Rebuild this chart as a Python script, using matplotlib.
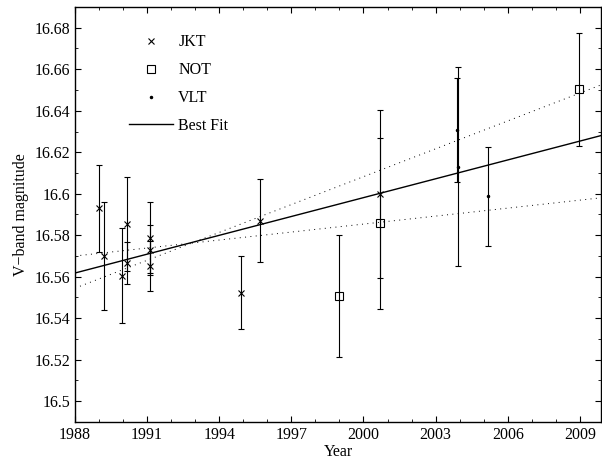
import matplotlib as mpl

mpl.use('Agg')
import matplotlib.pyplot as plt
from matplotlib.lines import Line2D
from matplotlib.ticker import MultipleLocator, FormatStrFormatter
import numpy as np

#### Data ####
jkt_year = [1989.01, 1989.22, 1989.97, 1990.16, 1990.16, 1991.10, 1991.12, 1991.12,
            1994.90, 1995.69, 2000.68]
jkt_mag = [16.5929, 16.5699, 16.5605, 16.5853, 16.5667, 16.5788, 16.5730, 16.5650,
           16.5524, 16.5870, 16.5999]
jkt_err = [0.0210, 0.0260, 0.0228, 0.0227, 0.0100, 0.0170, 0.0120, 0.0120,
           0.0174, 0.0200, 0.0405]

not_year = [1998.99, 2000.68, 2008.97]
not_mag = [16.5505, 16.5857, 16.6504]
not_err = [0.0294, 0.0412, 0.0273]

vlt_year = [2003.90, 2003.95, 2005.19]
vlt_mag = [16.6306, 16.6131, 16.5987]
vlt_err = [0.0250, 0.0480, 0.0240]

fit_year = [1988, 2010]
fit_mag = [16.5618, 16.6284]
fit_lo = [16.5700, 16.5982]
fit_hi = [16.5545, 16.6530]

year_ticks = [1988, 1991, 1994, 1997, 2000, 2003, 2006, 2009]

###################################

plt.rcParams['font.family'] = ['Liberation Serif', 'DejaVu Serif']
plt.rcParams['font.size'] = 11.5

fig = plt.figure(figsize=(6.02, 4.63), dpi=100)
ax = fig.add_axes([75 / 602, 1 - 422 / 463, 526 / 602, 415 / 463])

ebkw = dict(ecolor='black', elinewidth=0.8, capsize=2.5, capthick=0.8,
            linestyle='none', color='black')
ax.errorbar(jkt_year, jkt_mag, yerr=jkt_err, marker='x', markersize=4.5,
            markeredgewidth=0.8, **ebkw)
ax.errorbar(not_year, not_mag, yerr=not_err, marker='s', markersize=6,
            markerfacecolor='none', markeredgewidth=0.8, **ebkw)
ax.errorbar(vlt_year, vlt_mag, yerr=vlt_err, marker='.', markersize=3, **ebkw)
ax.plot(fit_year, fit_mag, color='black', lw=1.0)
ax.plot(fit_year, fit_lo, color='black', lw=0.7, linestyle=(0, (1, 4.5)))
ax.plot(fit_year, fit_hi, color='black', lw=0.7, linestyle=(0, (1, 4.5)))

ax.set_xlim(1988, 2009.88)
ax.set_ylim(16.49, 16.69)
ax.set_xticks(year_ticks)
ax.xaxis.set_minor_locator(MultipleLocator(1))
ax.yaxis.set_major_locator(MultipleLocator(0.02))
ax.yaxis.set_minor_locator(MultipleLocator(0.01))
ax.yaxis.set_major_formatter(FormatStrFormatter('%g'))
ax.tick_params(which='both', direction='in', top=True, right=True)
ax.tick_params(which='major', length=4, width=0.8)
ax.tick_params(which='minor', length=2, width=0.6)
for s in ax.spines.values():
    s.set_linewidth(1.0)

ax.set_xlabel('Year', labelpad=1)
ax.set_ylabel('V\u2212band magnitude', labelpad=4)

handles = [
    Line2D([], [], linestyle='none', marker='x', markersize=4.5,
           markeredgewidth=0.8, color='black'),
    Line2D([], [], linestyle='none', marker='s', markersize=6,
           markerfacecolor='none', markeredgewidth=0.8, color='black'),
    Line2D([], [], linestyle='none', marker='.', markersize=3, color='black'),
    Line2D([], [], color='black', lw=1.0),
]
ax.legend(handles, ['JKT', 'NOT', 'VLT', 'Best Fit'], loc='upper left',
          bbox_to_anchor=(0.09, 0.95), frameon=False, numpoints=1,
          handlelength=2.8, handletextpad=0.3, labelspacing=0.75,
          borderaxespad=0)

plt.savefig('out.png', dpi=100)
